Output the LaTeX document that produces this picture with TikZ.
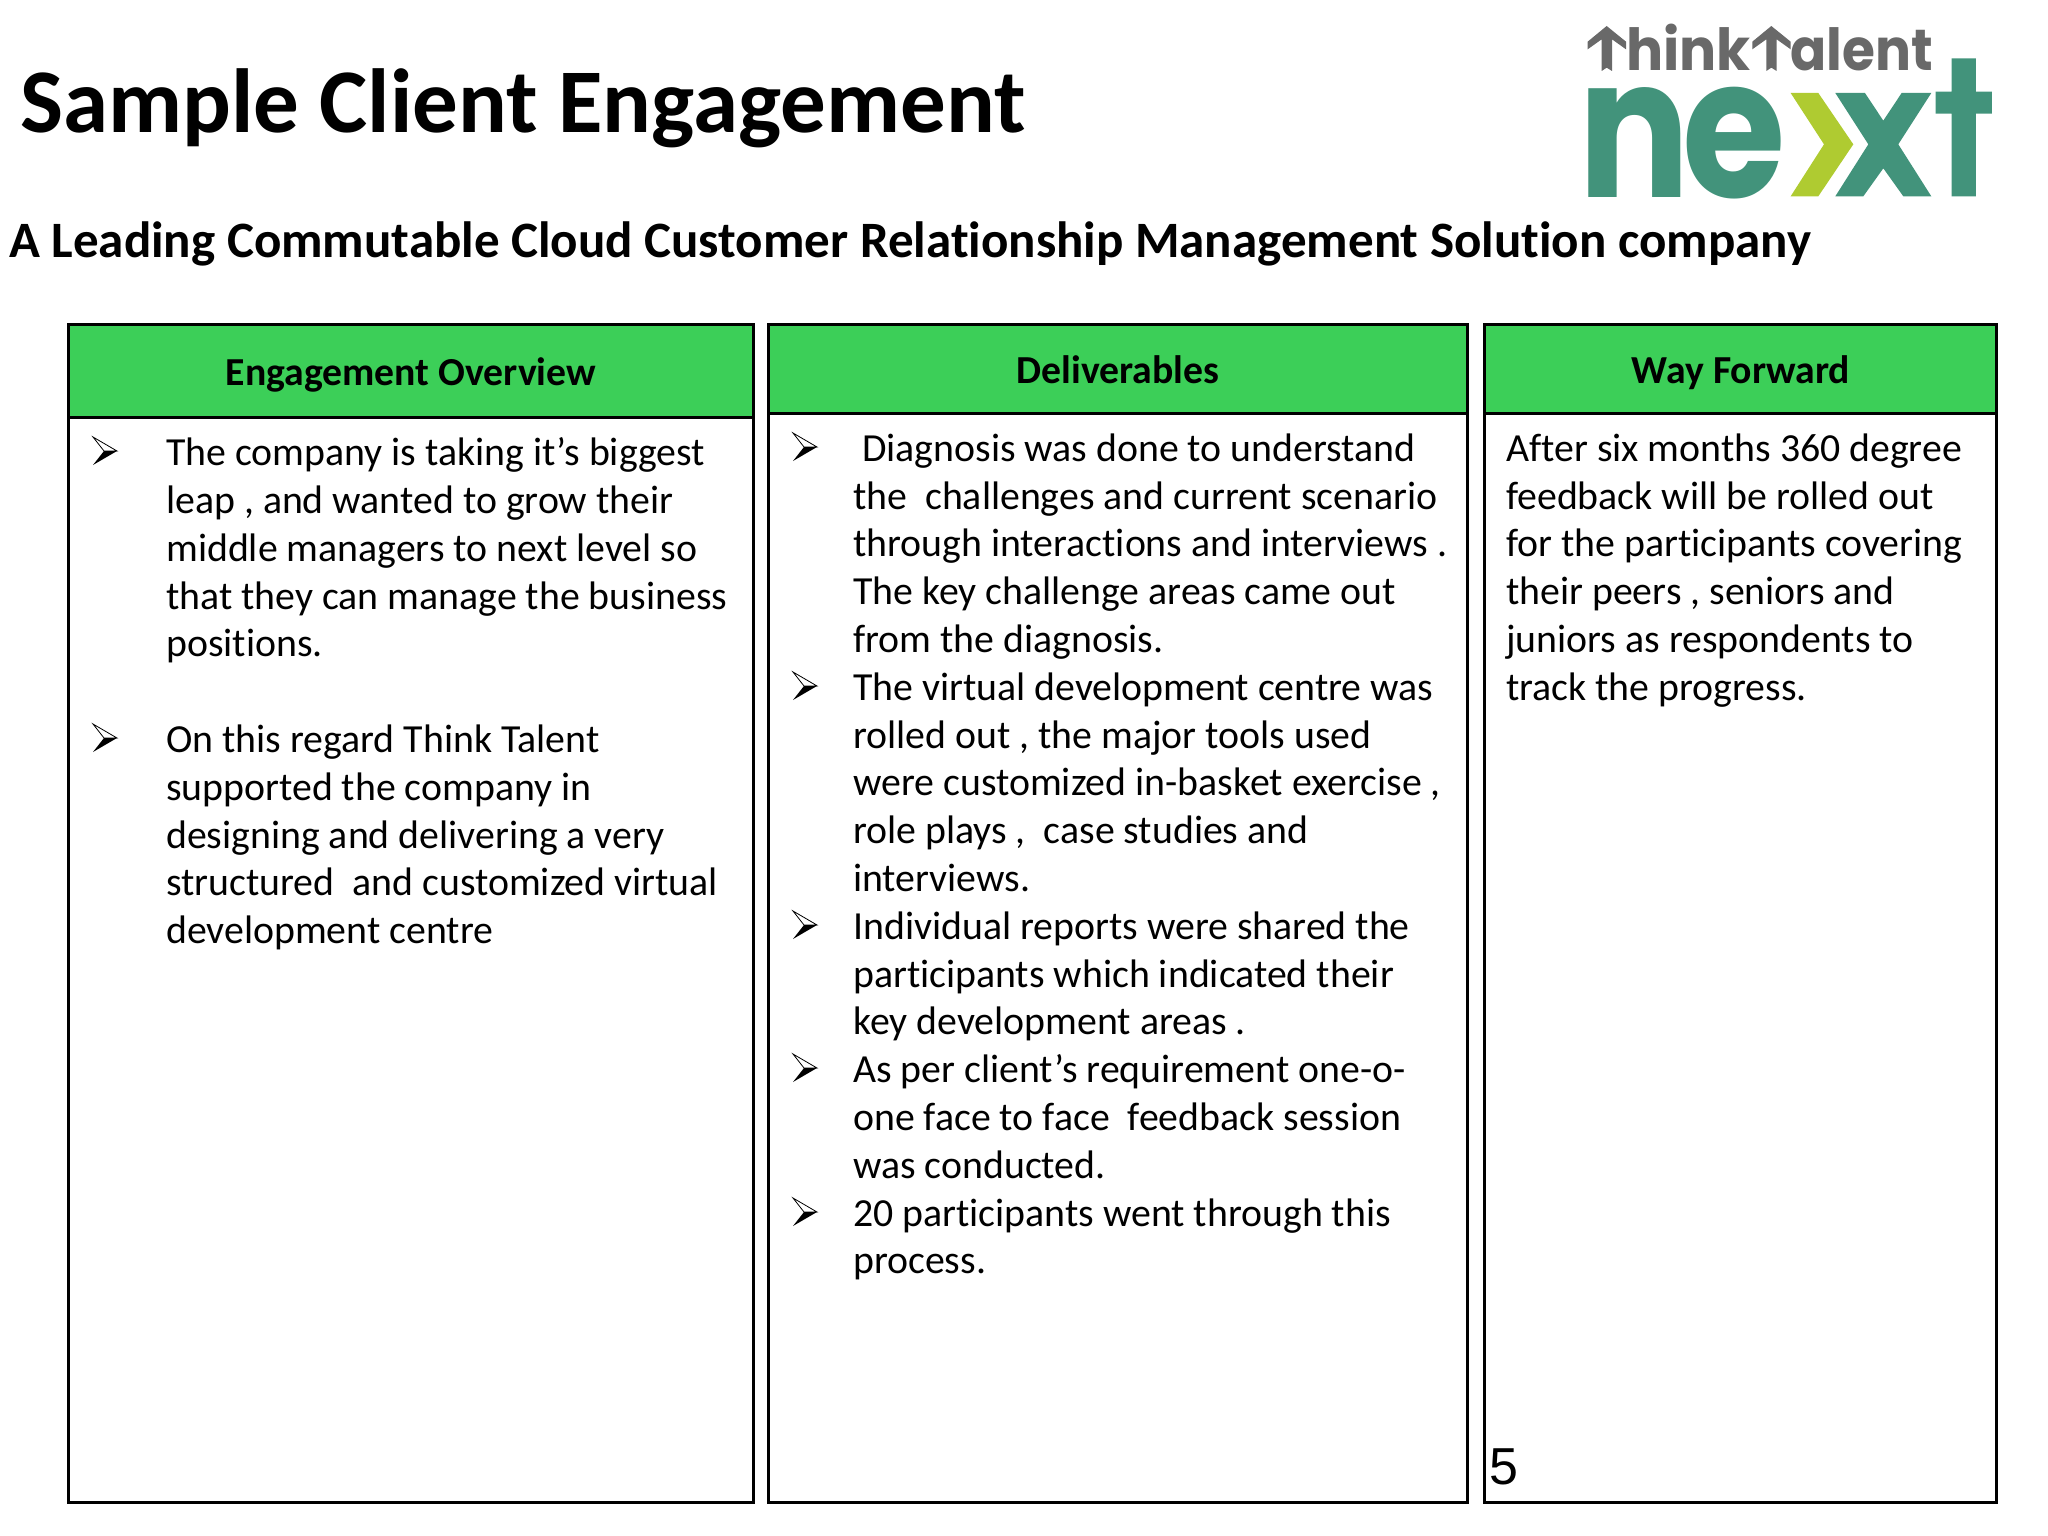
\documentclass[tikz,border=0pt]{standalone}
\usepackage{fontspec}
\usepackage{graphicx}
\setmainfont[RawFeature=-liga]{Carlito}
\newfontfamily\logofont{Poppins}
\newfontfamily\numfont{Liberation Sans}
\definecolor{hdrgreen}{HTML}{3CCF58}
\definecolor{logoteal}{HTML}{42937B}
\definecolor{logolime}{HTML}{AFCB31}
\definecolor{logogray}{HTML}{696969}
\tikzset{
  x=1pt,y=-1pt,
  colbox/.style={draw=black,line width=3pt,fill=white,anchor=north west,inner sep=0pt,outer sep=0pt},
  hdrbox/.style={draw=black,line width=3pt,fill=hdrgreen,anchor=north west,inner sep=0pt,outer sep=0pt},
  hdrtext/.style={font=\fontsize{39.7}{46}\selectfont\bfseries,anchor=base,inner sep=0pt},
  bodytext/.style={font=\fontsize{39.8}{47.8}\selectfont,anchor=north west,align=left,inner sep=0pt,
    execute at begin node=\rule{0pt}{31pt}},
  logotext/.style={anchor=base west,inner sep=0pt},
  bulletmark/.pic={
    \filldraw[draw=black,fill=white,line width=0.8pt] (0,-14) -- (24,0) -- (11,0) -- cycle;
    \fill[black] (0,14) -- (24,0) -- (11,0) -- cycle;
  }
}
\begin{document}
\begin{tikzpicture}
\useasboundingbox (0,0) rectangle (2048,1536);
% title
\node[font=\fontsize{91}{100}\selectfont\bfseries,anchor=base west,inner sep=0pt] (title) at (20,132) {Sample Client Engagement};
\node[font=\fontsize{51}{58}\selectfont\bfseries,anchor=base west,inner sep=0pt] (subtitle) at (9,257) {A Leading Commutable Cloud Customer Relationship Management Solution company};
% columns
\node[colbox,minimum width=685pt,minimum height=1178pt] (col1) at (68,324) {};
\node[colbox,minimum width=699pt,minimum height=1178pt] (col2) at (768,324) {};
\node[colbox,minimum width=512pt,minimum height=1178pt] (col3) at (1484,324) {};
\node[hdrbox,minimum width=685pt,minimum height=93pt] (head1) at (68,324) {};
\node[hdrbox,minimum width=699pt,minimum height=89pt] (head2) at (768,324) {};
\node[hdrbox,minimum width=512pt,minimum height=89pt] (head3) at (1484,324) {};
\node[hdrtext] (h1) at (411,385) {Engagement Overview};
\node[hdrtext] (h2) at (1118,383) {Deliverables};
\node[hdrtext] (h3) at (1741,383) {Way Forward};
% body
\pic at (93,451) {bulletmark};
\pic at (93,738) {bulletmark};
\node[bodytext] (t1) at (166,437.5) {The company is taking it’s biggest\\leap , and wanted to grow their\\middle managers to next level so\\that they can manage the business\\positions.\\[47.8pt]On this regard Think Talent\\supported the company in\\designing and delivering a very\\structured\ \ and customized virtual\\development centre};
\pic at (793,447) {bulletmark};
\pic at (793,686) {bulletmark};
\pic at (793,925) {bulletmark};
\pic at (793,1068) {bulletmark};
\pic at (793,1212) {bulletmark};
\node[bodytext] (t2) at (853,433.5) {\hspace*{9pt}Diagnosis was done to understand\\the\ \ challenges and current scenario\\through interactions and interviews .\\The key challenge areas came out\\from the diagnosis.\\The virtual development centre was\\rolled out , the major tools used\\were customized in-basket exercise ,\\role plays ,\ \ case studies and\\interviews.\\Individual reports were shared the\\participants which indicated their\\key development areas .\\As per client’s requirement one-o-\\one face to face\ \ feedback session\\was conducted.\\20 participants went through this\\process.};
\node[bodytext] (t3) at (1506,433.5) {After six months 360 degree\\feedback will be rolled out\\for the participants covering\\their peers , seniors and\\juniors as respondents to\\track the progress.};
\node[font=\fontsize{52}{60}\numfont,anchor=base west,inner sep=0pt] (pageno) at (1489,1484) {5};
% logo
\begin{scope}[shift={(1540,0)},x=0.3333pt,y=-0.3333pt]
  \fill[logogray] (143,125) -- (200,78) -- (258,125) -- (258,148) -- (216,118) -- (216,213) -- (200,203) -- (185,213) -- (185,118) -- (143,148) -- cycle;
  \fill[logogray] (637,125) -- (694,78) -- (752,125) -- (752,148) -- (710,118) -- (710,213) -- (694,203) -- (679,213) -- (679,118) -- (637,148) -- cycle;
  \fill[logolime] (752,279) -- (835,279) -- (940,433) -- (835,589) -- (752,589) -- (852,433) -- cycle;
  \fill[logoteal] (886,279) -- (975,279) -- (1030,362) -- (1085,279) -- (1174,279) -- (1075,433) -- (1174,589) -- (1090,589) -- (1030,505) -- (970,589) -- (886,589) -- (985,433) -- cycle;
  \fill[logoteal] (1235,175) -- (1308,175) -- (1308,275) -- (1356,275) -- (1356,341) -- (1308,341) -- (1308,589) -- (1235,589) -- (1235,341) -- (1187,341) -- (1187,275) -- (1235,275) -- cycle;
\end{scope}
\node[logotext,text=logogray,font=\fontsize{58}{60}\logofont\bfseries] (lhink) at (1626,71) {\scalebox{0.95}[1]{hink}};
\node[logotext,text=logogray,font=\fontsize{58}{60}\logofont\bfseries] (lalent) at (1790,71) {\scalebox{0.92}[1]{alent}};
\node[logotext,text=logoteal,font=\fontsize{195}{200}\logofont\bfseries] (ln) at (1578,197) {\scalebox{0.85}[1]{n}};
\node[logotext,text=logoteal,font=\fontsize{195}{200}\logofont\bfseries] (le) at (1682,197) {\scalebox{0.86}[1]{e}};
\end{tikzpicture}
\end{document}
